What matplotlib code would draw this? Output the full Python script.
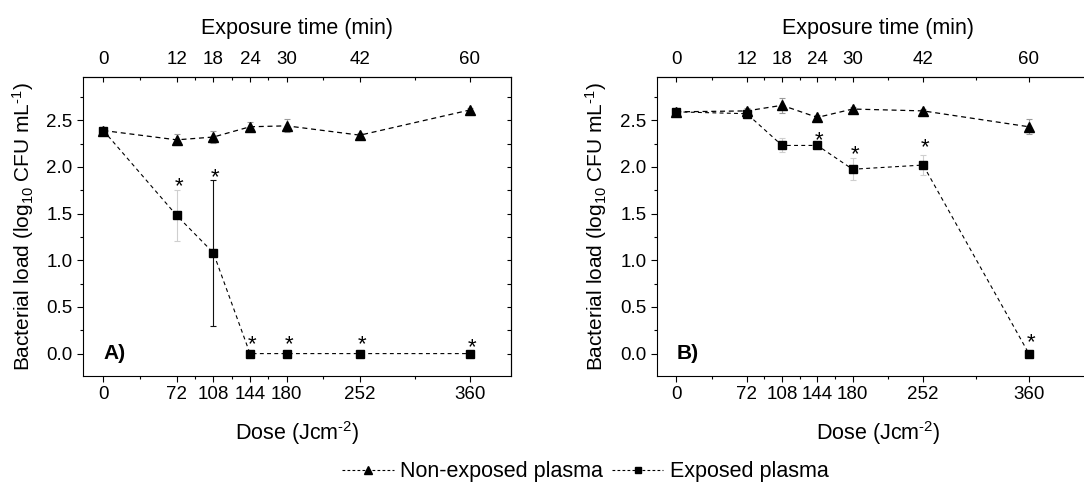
#!/usr/bin/env python3
"""
Bacterial load vs dose for non-exposed / exposed plasma, two panels (A, B),
with a secondary exposure-time axis on top.
"""
import matplotlib
matplotlib.use("Agg")
import matplotlib.pyplot as plt
import matplotlib.transforms as mtrans
from matplotlib.lines import Line2D
from matplotlib.ticker import FixedLocator, MultipleLocator, NullFormatter

plt.rcParams['font.family'] = 'Liberation Sans'
plt.rcParams['mathtext.fontset'] = 'custom'
plt.rcParams['mathtext.rm'] = 'Liberation Sans'
plt.rcParams['mathtext.default'] = 'regular'

# ---------- data ----------
dose = [0, 72, 108, 144, 180, 252, 360]
dose_minor = [36, 90, 126, 162, 216, 306]
time_min = [0, 12, 18, 24, 30, 42, 60]
time_minor = [6, 15, 21, 27, 36, 51]

# panel A
a_nonexp = [2.39, 2.29, 2.32, 2.43, 2.44, 2.34, 2.61]
a_nonexp_err = [0.03, 0.06, 0.06, 0.05, 0.07, 0.02, 0.02]
a_exp = [2.39, 1.48, 1.08, 0.0, 0.0, 0.0, 0.0]
a_exp_err = [0.03, 0.27, 0.78, 0.0, 0.0, 0.0, 0.0]
a_exp_err_dark = [False, False, True, False, False, False, False]
a_star_dose = [72, 108, 144, 180, 252, 360]
a_star_y = [1.86, 1.96, 0.17, 0.17, 0.17, 0.14]

# panel B
b_nonexp = [2.59, 2.60, 2.66, 2.53, 2.62, 2.60, 2.43]
b_nonexp_err = [0.02, 0.03, 0.08, 0.03, 0.02, 0.02, 0.08]
b_exp = [2.59, 2.57, 2.23, 2.23, 1.975, 2.02, 0.0]
b_exp_err = [0.02, 0.05, 0.075, 0.03, 0.12, 0.11, 0.0]
b_exp_err_dark = [False] * 7
b_star_dose = [144, 180, 252, 360]
b_star_y = [2.36, 2.21, 2.28, 0.19]

W, H = 1084, 491
fig = plt.figure(figsize=(W / 100, H / 100), dpi=100)

HY = '\u2010'  # short hyphen for the superscripts, as in the original


def px_axes(left, right, top, bottom):
    return fig.add_axes([left / W, (H - bottom) / H, (right - left) / W, (bottom - top) / H])


def dose_to_time(d):
    return d / 6.0


def time_to_dose(t):
    return t * 6.0


def panel(ax, nonexp, nonexp_err, exp, exp_err, exp_dark, star_dose, star_y, tag, xmax):
    # error bars first, so markers sit on top
    for x, y, e in zip(dose, nonexp, nonexp_err):
        if e > 0:
            ax.errorbar([x], [y], yerr=[e], fmt='none', ecolor='#9a9a9a',
                        elinewidth=0.8, capsize=2.2, capthick=0.8, zorder=1)
    for x, y, e, dk in zip(dose, exp, exp_err, exp_dark):
        if e > 0:
            ax.errorbar([x], [y], yerr=[e], fmt='none',
                        ecolor='#111111' if dk else '#cfcfcf',
                        elinewidth=0.8, capsize=2.2, capthick=0.8, zorder=1)
    ax.plot(dose, nonexp, color='k', lw=0.9, ls='--', dashes=(4, 3),
            marker='^', ms=7, zorder=3)
    ax.plot(dose, exp, color='k', lw=0.8, ls='--', dashes=(3.5, 3),
            marker='s', ms=5.5, zorder=3)

    # asterisks: baseline shifted so the glyph is centred on the y value
    star_tr = mtrans.offset_copy(ax.transData, fig=fig, x=1.5, y=-9.0, units='points')
    for x, y in zip(star_dose, star_y):
        ax.text(x, y, '*', fontsize=16, ha='center', va='baseline', transform=star_tr)

    ax.text(0, 0, tag, fontsize=15, fontweight='bold', ha='left', va='center')

    ax.set_xlim(-20, xmax)
    ax.set_ylim(-0.24, 2.96)
    ax.xaxis.set_major_locator(FixedLocator(dose))
    ax.xaxis.set_minor_locator(FixedLocator(dose_minor))
    ax.yaxis.set_major_locator(MultipleLocator(0.5))
    ax.yaxis.set_minor_locator(MultipleLocator(0.25))
    ax.yaxis.set_major_formatter(matplotlib.ticker.FormatStrFormatter('%.1f'))
    ax.tick_params(which='major', direction='out', length=4, width=0.8,
                   labelsize=13.5, pad=3.5, top=False, right=False)
    ax.tick_params(which='minor', direction='out', length=2.5, width=0.8,
                   top=False, right=False)
    for s in ax.spines.values():
        s.set_linewidth(0.8)

    ax.set_xlabel('Dose (Jcm$^{' + HY + '2}$)', fontsize=15.5)
    ax.xaxis.set_label_coords(0.5, -0.19)
    ax.xaxis.label.set_verticalalignment('center')
    ax.set_ylabel('Bacterial load (log$_{10}$ CFU mL$^{' + HY + '1}$)', fontsize=15)

    top = ax.secondary_xaxis('top', functions=(dose_to_time, time_to_dose))
    top.xaxis.set_major_locator(FixedLocator(time_min))
    top.xaxis.set_minor_locator(FixedLocator(time_minor))
    top.tick_params(which='major', direction='in', length=3.5, width=0.8,
                    labelsize=13.5, pad=6.5)
    top.tick_params(which='minor', direction='in', length=2.5, width=0.8)
    top.spines['top'].set_linewidth(0.8)
    ax.text(0.5, 1.165, 'Exposure time (min)', fontsize=15.5, ha='center',
            va='center', transform=ax.transAxes)

    right = ax.secondary_yaxis('right')
    right.yaxis.set_major_locator(MultipleLocator(0.5))
    right.yaxis.set_minor_locator(MultipleLocator(0.25))
    right.yaxis.set_major_formatter(NullFormatter())
    right.tick_params(which='both', direction='in', length=3, width=0.8)
    right.spines['right'].set_linewidth(0.8)


axA = px_axes(83, 510.7, 77.3, 376)
panel(axA, a_nonexp, a_nonexp_err, a_exp, a_exp_err, a_exp_err_dark,
      a_star_dose, a_star_y, 'A)', 400)
axA.yaxis.set_label_coords(-0.11, 0.5)

axB = px_axes(656.7, 1100, 77.3, 376)
panel(axB, b_nonexp, b_nonexp_err, b_exp, b_exp_err, b_exp_err_dark,
      b_star_dose, b_star_y, 'B)', 432.6)
axB.yaxis.set_label_coords(-0.108, 0.5)

handles = [
    Line2D([], [], color='k', lw=0.8, ls='--', dashes=(2.5, 2), marker='^', ms=6,
           label='Non-exposed plasma'),
    Line2D([], [], color='k', lw=0.8, ls='--', dashes=(2.5, 2), marker='s', ms=5,
           label='Exposed plasma'),
]
fig.legend(handles=handles, loc='center', bbox_to_anchor=(0.54, 0.039), ncol=2,
           frameon=False, fontsize=15.5, handlelength=2.4, handletextpad=0.3,
           columnspacing=0.4, numpoints=1)

fig.savefig('out.png', dpi=100)
